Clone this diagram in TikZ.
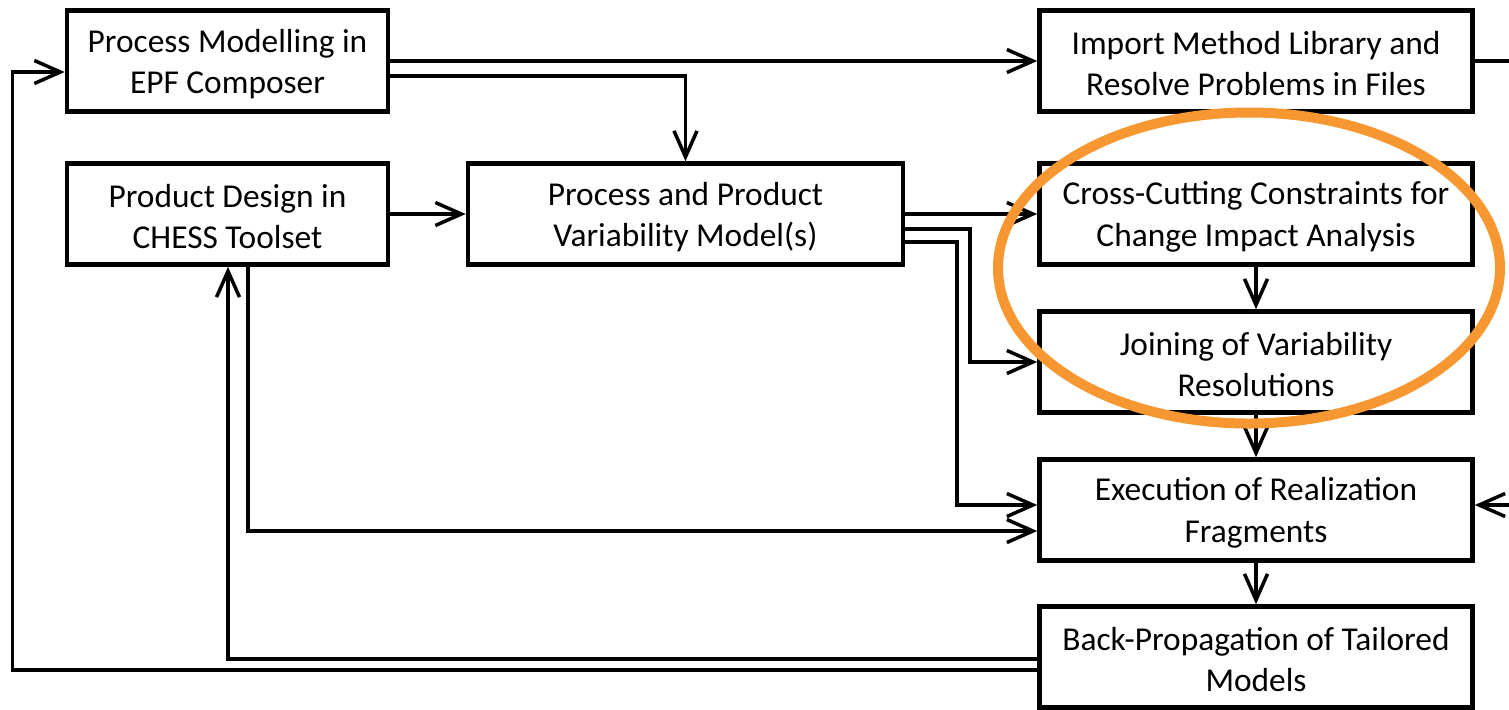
\documentclass[tikz,border=0pt]{standalone}
\usepackage{fontspec}
\setmainfont{Carlito}
\usetikzlibrary{calc,arrows.meta}

\definecolor{ringorange}{RGB}{247,151,50}

\begin{document}
\begin{tikzpicture}[x=0.2mm, y=-0.2mm,
	box/.style={draw, line width=2.6pt, align=center, inner sep=0pt,
		minimum height=20.2mm, font=\fontsize{19}{23.5}\selectfont},
	smallbox/.style={box, minimum width=64.2mm},
	bigbox/.style={box, minimum width=86.6mm},
	conn/.style={line width=2pt, -{Straight Barb[length=5.2mm, width=4.6mm]}}]
	
	\useasboundingbox (0,0) rectangle (1509,709);
	
	% left column
	\node[smallbox] (pm) at (227.5,61) {\strut Process Modelling in\\EPF Composer};
	\node[smallbox] (pd) at (227.5,214) {\strut Product Design in\\CHESS Toolset};
	
	% variability model
	\node[box, minimum width=87mm] (pv) at (685.5,214) {\strut Process and Product\\Variability Model(s)};
	
	% right column
	\node[bigbox] (iml) at (1256,61) {\strut Import Method Library and\\Resolve Problems in Files};
	\node[bigbox] (ccc) at (1256,214) {\strut Cross-Cutting Constraints for\\Change Impact Analysis};
	\node[bigbox] (jvr) at (1256,362) {\strut Joining of Variability\\Resolutions};
	\node[bigbox] (exe) at (1256,510) {\strut Execution of Realization\\Fragments};
	\node[bigbox] (bpt) at (1256,657) {\strut Back-Propagation of Tailored\\Models};
	
	
	\draw[conn] (pm) -- (iml);
	\draw[conn] ($(pm.east)+(0,15)$) -| (pv.north);
	\draw[conn] (pd) -- (pv);
	
	\draw[conn] (pv) -- (ccc);
	\draw[conn] ($(pv.east)+(0,15)$) -| ($(jvr.west)+(-67,0)$) -- (jvr.west);
	\draw[conn] ($(pv.east)+(0,28)$) -| ($(exe.west)+(-80,-5)$) -- ($(exe.west)+(0,-5)$);
	\draw[conn] ($(pd.south)+(20.5,0)$) |- ($(exe.west)+(0,21)$);
	
	\draw[conn] (ccc) -- (jvr);
	\draw[conn] (jvr) -- (exe);
	\draw[conn] (exe) -- (bpt);
	
	\draw[conn] (iml.east) -| ($(exe.east)+(36,-5)$) -- ($(exe.east)+(0,-5)$);
	
	% feedback from back-propagation
	\draw[conn] ($(bpt.west)+(0,2)$) -| ($(pd.south)+(0.5,0)$);
	\draw[conn] ($(bpt.west)+(0,13)$) -| ($(pm.west)+(-52,11)$) -- ($(pm.west)+(0,11)$);
	
	
	\draw[ringorange, line width=2mm] (1249,268) ellipse [x radius=50.2mm, y radius=31.1mm];
	
\end{tikzpicture}
\end{document}
